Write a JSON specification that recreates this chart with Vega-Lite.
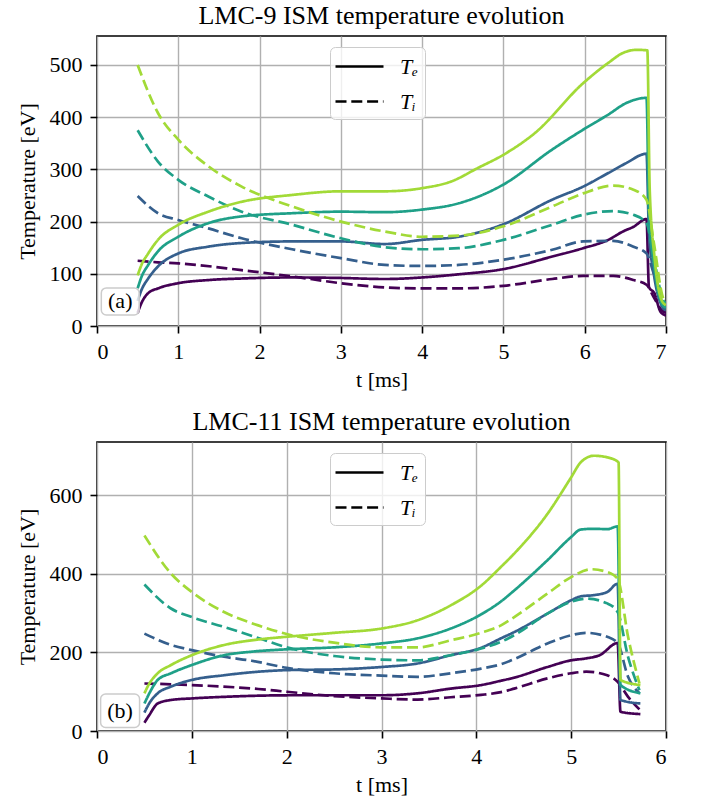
{
"$schema": "https://vega.github.io/schema/vega-lite/v6.json",
"background": "white",
"padding": {"left": 15, "top": 2, "right": 5, "bottom": 5},
"spacing": 116,
"bounds": "flush",
"config": {
  "font": "Liberation Serif",
  "view": {"stroke": "black", "strokeWidth": 1.6},
  "axis": {"domain": false, "grid": true, "gridColor": "#b0b0b0", "gridWidth": 1.4, "tickColor": "black", "tickWidth": 1.6, "tickSize": 7, "labelFont": "Liberation Serif", "labelFontSize": 22, "labelColor": "black", "labelPadding": 8, "titleFont": "Liberation Serif", "titleFontSize": 22, "titleFontWeight": "normal", "titleColor": "black", "format": "d"},
  "axisX": {"titlePadding": 7},
  "axisY": {"titlePadding": 10},
  "title": {"font": "Liberation Serif", "fontSize": 26, "fontWeight": "normal", "color": "black", "anchor": "middle", "offset": 7, "baseline": "alphabetic"}
},
"resolve": {"scale": {"x": "independent", "y": "independent", "color": "independent", "strokeDash": "independent"}, "legend": {"strokeDash": "independent"}},
"datasets": {
"notes": [
{"p":"a","label":"(a)","t0":0.053,"t1":0.519,"T0":21,"T1":73,"tc":0.286,"Tc":47},
{"p":"b","label":"(b)","t0":0.038,"t1":0.449,"T0":9,"T1":94,"tc":0.243,"Tc":51.5}
],
"curves": [
{"p":"a","r":1,"k":"Te","t":0.5,"T":25},{"p":"a","r":1,"k":"Te","t":0.55,"T":45},{"p":"a","r":1,"k":"Te","t":0.63,"T":63},{"p":"a","r":1,"k":"Te","t":0.75,"T":72},{"p":"a","r":1,"k":"Te","t":1.0,"T":82},{"p":"a","r":1,"k":"Te","t":1.37,"T":88},{"p":"a","r":1,"k":"Te","t":1.78,"T":91},{"p":"a","r":1,"k":"Te","t":2.4,"T":93},{"p":"a","r":1,"k":"Te","t":3.0,"T":92},{"p":"a","r":1,"k":"Te","t":3.54,"T":90},{"p":"a","r":1,"k":"Te","t":4.0,"T":93},{"p":"a","r":1,"k":"Te","t":4.45,"T":99},{"p":"a","r":1,"k":"Te","t":5.0,"T":109},{"p":"a","r":1,"k":"Te","t":5.6,"T":133},{"p":"a","r":1,"k":"Te","t":5.98,"T":149},{"p":"a","r":1,"k":"Te","t":6.29,"T":165},{"p":"a","r":1,"k":"Te","t":6.47,"T":181},{"p":"a","r":1,"k":"Te","t":6.6,"T":190},{"p":"a","r":1,"k":"Te","t":6.76,"T":205},{"p":"a","r":1,"k":"Te","t":6.79,"T":75},{"p":"a","r":1,"k":"Te","t":6.86,"T":62},{"p":"a","r":1,"k":"Te","t":6.93,"T":28},{"p":"a","r":1,"k":"Te","t":7.0,"T":20},
{"p":"a","r":1,"k":"Ti","t":0.5,"T":125},{"p":"a","r":1,"k":"Ti","t":0.75,"T":122},{"p":"a","r":1,"k":"Ti","t":1.0,"T":120},{"p":"a","r":1,"k":"Ti","t":1.78,"T":107},{"p":"a","r":1,"k":"Ti","t":2.4,"T":95},{"p":"a","r":1,"k":"Ti","t":3.0,"T":82},{"p":"a","r":1,"k":"Ti","t":3.54,"T":74},{"p":"a","r":1,"k":"Ti","t":4.0,"T":72},{"p":"a","r":1,"k":"Ti","t":4.45,"T":72},{"p":"a","r":1,"k":"Ti","t":5.0,"T":77},{"p":"a","r":1,"k":"Ti","t":5.6,"T":90},{"p":"a","r":1,"k":"Ti","t":5.98,"T":96},{"p":"a","r":1,"k":"Ti","t":6.35,"T":96},{"p":"a","r":1,"k":"Ti","t":6.6,"T":88},{"p":"a","r":1,"k":"Ti","t":6.76,"T":79},{"p":"a","r":1,"k":"Ti","t":6.85,"T":55},{"p":"a","r":1,"k":"Ti","t":6.95,"T":30},{"p":"a","r":1,"k":"Ti","t":7.0,"T":25},
{"p":"a","r":2,"k":"Te","t":0.5,"T":48},{"p":"a","r":2,"k":"Te","t":0.55,"T":70},{"p":"a","r":2,"k":"Te","t":0.63,"T":91},{"p":"a","r":2,"k":"Te","t":0.75,"T":114},{"p":"a","r":2,"k":"Te","t":1.0,"T":139},{"p":"a","r":2,"k":"Te","t":1.37,"T":152},{"p":"a","r":2,"k":"Te","t":1.78,"T":159},{"p":"a","r":2,"k":"Te","t":2.4,"T":162},{"p":"a","r":2,"k":"Te","t":3.0,"T":162},{"p":"a","r":2,"k":"Te","t":3.54,"T":157},{"p":"a","r":2,"k":"Te","t":4.0,"T":165},{"p":"a","r":2,"k":"Te","t":4.45,"T":171},{"p":"a","r":2,"k":"Te","t":5.0,"T":195},{"p":"a","r":2,"k":"Te","t":5.6,"T":242},{"p":"a","r":2,"k":"Te","t":5.98,"T":267},{"p":"a","r":2,"k":"Te","t":6.29,"T":293},{"p":"a","r":2,"k":"Te","t":6.51,"T":312},{"p":"a","r":2,"k":"Te","t":6.76,"T":330},{"p":"a","r":2,"k":"Te","t":6.79,"T":180},{"p":"a","r":2,"k":"Te","t":6.85,"T":100},{"p":"a","r":2,"k":"Te","t":6.95,"T":38},{"p":"a","r":2,"k":"Te","t":7.0,"T":30},
{"p":"a","r":2,"k":"Ti","t":0.5,"T":249},{"p":"a","r":2,"k":"Ti","t":0.75,"T":216},{"p":"a","r":2,"k":"Ti","t":1.0,"T":203},{"p":"a","r":2,"k":"Ti","t":1.37,"T":187},{"p":"a","r":2,"k":"Ti","t":1.78,"T":168},{"p":"a","r":2,"k":"Ti","t":2.4,"T":147},{"p":"a","r":2,"k":"Ti","t":3.0,"T":130},{"p":"a","r":2,"k":"Ti","t":3.54,"T":117},{"p":"a","r":2,"k":"Ti","t":4.0,"T":115},{"p":"a","r":2,"k":"Ti","t":4.45,"T":117},{"p":"a","r":2,"k":"Ti","t":5.0,"T":127},{"p":"a","r":2,"k":"Ti","t":5.6,"T":146},{"p":"a","r":2,"k":"Ti","t":5.98,"T":162},{"p":"a","r":2,"k":"Ti","t":6.35,"T":163},{"p":"a","r":2,"k":"Ti","t":6.6,"T":152},{"p":"a","r":2,"k":"Ti","t":6.76,"T":139},{"p":"a","r":2,"k":"Ti","t":6.85,"T":100},{"p":"a","r":2,"k":"Ti","t":6.97,"T":40},{"p":"a","r":2,"k":"Ti","t":7.0,"T":36},
{"p":"a","r":3,"k":"Te","t":0.5,"T":72},{"p":"a","r":3,"k":"Te","t":0.55,"T":95},{"p":"a","r":3,"k":"Te","t":0.63,"T":117},{"p":"a","r":3,"k":"Te","t":0.75,"T":143},{"p":"a","r":3,"k":"Te","t":1.0,"T":171},{"p":"a","r":3,"k":"Te","t":1.37,"T":197},{"p":"a","r":3,"k":"Te","t":1.78,"T":210},{"p":"a","r":3,"k":"Te","t":2.4,"T":216},{"p":"a","r":3,"k":"Te","t":3.0,"T":219},{"p":"a","r":3,"k":"Te","t":3.54,"T":218},{"p":"a","r":3,"k":"Te","t":4.0,"T":223},{"p":"a","r":3,"k":"Te","t":4.45,"T":235},{"p":"a","r":3,"k":"Te","t":5.0,"T":271},{"p":"a","r":3,"k":"Te","t":5.6,"T":338},{"p":"a","r":3,"k":"Te","t":5.98,"T":376},{"p":"a","r":3,"k":"Te","t":6.29,"T":405},{"p":"a","r":3,"k":"Te","t":6.51,"T":427},{"p":"a","r":3,"k":"Te","t":6.76,"T":437},{"p":"a","r":3,"k":"Te","t":6.79,"T":220},{"p":"a","r":3,"k":"Te","t":6.85,"T":120},{"p":"a","r":3,"k":"Te","t":6.95,"T":42},{"p":"a","r":3,"k":"Te","t":7.0,"T":35},
{"p":"a","r":3,"k":"Ti","t":0.5,"T":375},{"p":"a","r":3,"k":"Ti","t":0.75,"T":315},{"p":"a","r":3,"k":"Ti","t":1.0,"T":280},{"p":"a","r":3,"k":"Ti","t":1.37,"T":248},{"p":"a","r":3,"k":"Ti","t":1.78,"T":219},{"p":"a","r":3,"k":"Ti","t":2.4,"T":194},{"p":"a","r":3,"k":"Ti","t":3.0,"T":168},{"p":"a","r":3,"k":"Ti","t":3.54,"T":151},{"p":"a","r":3,"k":"Ti","t":4.0,"T":147},{"p":"a","r":3,"k":"Ti","t":4.45,"T":149},{"p":"a","r":3,"k":"Ti","t":5.0,"T":165},{"p":"a","r":3,"k":"Ti","t":5.6,"T":194},{"p":"a","r":3,"k":"Ti","t":5.98,"T":213},{"p":"a","r":3,"k":"Ti","t":6.35,"T":220},{"p":"a","r":3,"k":"Ti","t":6.6,"T":213},{"p":"a","r":3,"k":"Ti","t":6.76,"T":197},{"p":"a","r":3,"k":"Ti","t":6.85,"T":130},{"p":"a","r":3,"k":"Ti","t":6.97,"T":48},{"p":"a","r":3,"k":"Ti","t":7.0,"T":44},
{"p":"a","r":4,"k":"Te","t":0.5,"T":97},{"p":"a","r":4,"k":"Te","t":0.55,"T":118},{"p":"a","r":4,"k":"Te","t":0.63,"T":139},{"p":"a","r":4,"k":"Te","t":0.75,"T":165},{"p":"a","r":4,"k":"Te","t":1.0,"T":194},{"p":"a","r":4,"k":"Te","t":1.37,"T":219},{"p":"a","r":4,"k":"Te","t":1.78,"T":238},{"p":"a","r":4,"k":"Te","t":2.4,"T":251},{"p":"a","r":4,"k":"Te","t":3.0,"T":258},{"p":"a","r":4,"k":"Te","t":3.54,"T":258},{"p":"a","r":4,"k":"Te","t":4.0,"T":264},{"p":"a","r":4,"k":"Te","t":4.36,"T":277},{"p":"a","r":4,"k":"Te","t":4.69,"T":303},{"p":"a","r":4,"k":"Te","t":5.0,"T":328},{"p":"a","r":4,"k":"Te","t":5.39,"T":370},{"p":"a","r":4,"k":"Te","t":5.98,"T":465},{"p":"a","r":4,"k":"Te","t":6.29,"T":504},{"p":"a","r":4,"k":"Te","t":6.47,"T":523},{"p":"a","r":4,"k":"Te","t":6.64,"T":529},{"p":"a","r":4,"k":"Te","t":6.77,"T":528},{"p":"a","r":4,"k":"Te","t":6.8,"T":260},{"p":"a","r":4,"k":"Te","t":6.86,"T":130},{"p":"a","r":4,"k":"Te","t":6.95,"T":48},{"p":"a","r":4,"k":"Te","t":7.0,"T":40},
{"p":"a","r":4,"k":"Ti","t":0.5,"T":500},{"p":"a","r":4,"k":"Ti","t":0.75,"T":408},{"p":"a","r":4,"k":"Ti","t":1.0,"T":357},{"p":"a","r":4,"k":"Ti","t":1.37,"T":306},{"p":"a","r":4,"k":"Ti","t":1.78,"T":267},{"p":"a","r":4,"k":"Ti","t":2.4,"T":229},{"p":"a","r":4,"k":"Ti","t":3.0,"T":200},{"p":"a","r":4,"k":"Ti","t":3.54,"T":181},{"p":"a","r":4,"k":"Ti","t":4.0,"T":171},{"p":"a","r":4,"k":"Ti","t":4.45,"T":173},{"p":"a","r":4,"k":"Ti","t":5.0,"T":191},{"p":"a","r":4,"k":"Ti","t":5.6,"T":229},{"p":"a","r":4,"k":"Ti","t":5.98,"T":254},{"p":"a","r":4,"k":"Ti","t":6.35,"T":269},{"p":"a","r":4,"k":"Ti","t":6.6,"T":261},{"p":"a","r":4,"k":"Ti","t":6.76,"T":242},{"p":"a","r":4,"k":"Ti","t":6.85,"T":160},{"p":"a","r":4,"k":"Ti","t":6.97,"T":52},{"p":"a","r":4,"k":"Ti","t":7.0,"T":48},
{"p":"b","r":1,"k":"Te","t":0.5,"T":21},{"p":"b","r":1,"k":"Te","t":0.55,"T":40},{"p":"b","r":1,"k":"Te","t":0.64,"T":70},{"p":"b","r":1,"k":"Te","t":0.78,"T":79},{"p":"b","r":1,"k":"Te","t":1.0,"T":83},{"p":"b","r":1,"k":"Te","t":1.34,"T":87},{"p":"b","r":1,"k":"Te","t":2.05,"T":91},{"p":"b","r":1,"k":"Te","t":2.54,"T":91},{"p":"b","r":1,"k":"Te","t":3.0,"T":91},{"p":"b","r":1,"k":"Te","t":3.38,"T":96},{"p":"b","r":1,"k":"Te","t":3.73,"T":108},{"p":"b","r":1,"k":"Te","t":4.05,"T":117},{"p":"b","r":1,"k":"Te","t":4.26,"T":128},{"p":"b","r":1,"k":"Te","t":4.4,"T":136},{"p":"b","r":1,"k":"Te","t":4.75,"T":163},{"p":"b","r":1,"k":"Te","t":5.0,"T":180},{"p":"b","r":1,"k":"Te","t":5.16,"T":185},{"p":"b","r":1,"k":"Te","t":5.3,"T":193},{"p":"b","r":1,"k":"Te","t":5.49,"T":224},{"p":"b","r":1,"k":"Te","t":5.52,"T":49},{"p":"b","r":1,"k":"Te","t":5.73,"T":43},
{"p":"b","r":1,"k":"Ti","t":0.5,"T":121},{"p":"b","r":1,"k":"Ti","t":1.0,"T":117},{"p":"b","r":1,"k":"Ti","t":1.7,"T":107},{"p":"b","r":1,"k":"Ti","t":2.0,"T":100},{"p":"b","r":1,"k":"Ti","t":2.5,"T":89},{"p":"b","r":1,"k":"Ti","t":3.0,"T":83},{"p":"b","r":1,"k":"Ti","t":3.38,"T":80},{"p":"b","r":1,"k":"Ti","t":3.73,"T":86},{"p":"b","r":1,"k":"Ti","t":4.05,"T":92},{"p":"b","r":1,"k":"Ti","t":4.26,"T":99},{"p":"b","r":1,"k":"Ti","t":4.4,"T":108},{"p":"b","r":1,"k":"Ti","t":4.75,"T":134},{"p":"b","r":1,"k":"Ti","t":5.0,"T":147},{"p":"b","r":1,"k":"Ti","t":5.16,"T":151},{"p":"b","r":1,"k":"Ti","t":5.38,"T":142},{"p":"b","r":1,"k":"Ti","t":5.49,"T":125},{"p":"b","r":1,"k":"Ti","t":5.6,"T":87},{"p":"b","r":1,"k":"Ti","t":5.72,"T":55},
{"p":"b","r":2,"k":"Te","t":0.5,"T":47},{"p":"b","r":2,"k":"Te","t":0.55,"T":70},{"p":"b","r":2,"k":"Te","t":0.64,"T":96},{"p":"b","r":2,"k":"Te","t":0.78,"T":113},{"p":"b","r":2,"k":"Te","t":1.0,"T":130},{"p":"b","r":2,"k":"Te","t":1.34,"T":142},{"p":"b","r":2,"k":"Te","t":1.7,"T":151},{"p":"b","r":2,"k":"Te","t":2.0,"T":155},{"p":"b","r":2,"k":"Te","t":2.54,"T":157},{"p":"b","r":2,"k":"Te","t":3.0,"T":163},{"p":"b","r":2,"k":"Te","t":3.38,"T":172},{"p":"b","r":2,"k":"Te","t":3.73,"T":193},{"p":"b","r":2,"k":"Te","t":4.05,"T":212},{"p":"b","r":2,"k":"Te","t":4.26,"T":236},{"p":"b","r":2,"k":"Te","t":4.4,"T":252},{"p":"b","r":2,"k":"Te","t":4.75,"T":299},{"p":"b","r":2,"k":"Te","t":5.0,"T":333},{"p":"b","r":2,"k":"Te","t":5.1,"T":343},{"p":"b","r":2,"k":"Te","t":5.24,"T":346},{"p":"b","r":2,"k":"Te","t":5.38,"T":354},{"p":"b","r":2,"k":"Te","t":5.49,"T":375},{"p":"b","r":2,"k":"Te","t":5.52,"T":79},{"p":"b","r":2,"k":"Te","t":5.73,"T":70},
{"p":"b","r":2,"k":"Ti","t":0.5,"T":248},{"p":"b","r":2,"k":"Ti","t":0.78,"T":219},{"p":"b","r":2,"k":"Ti","t":1.0,"T":206},{"p":"b","r":2,"k":"Ti","t":1.34,"T":189},{"p":"b","r":2,"k":"Ti","t":1.63,"T":179},{"p":"b","r":2,"k":"Ti","t":2.0,"T":161},{"p":"b","r":2,"k":"Ti","t":2.5,"T":147},{"p":"b","r":2,"k":"Ti","t":3.0,"T":141},{"p":"b","r":2,"k":"Ti","t":3.38,"T":138},{"p":"b","r":2,"k":"Ti","t":3.73,"T":147},{"p":"b","r":2,"k":"Ti","t":4.05,"T":159},{"p":"b","r":2,"k":"Ti","t":4.26,"T":170},{"p":"b","r":2,"k":"Ti","t":4.4,"T":183},{"p":"b","r":2,"k":"Ti","t":4.75,"T":223},{"p":"b","r":2,"k":"Ti","t":5.0,"T":244},{"p":"b","r":2,"k":"Ti","t":5.16,"T":250},{"p":"b","r":2,"k":"Ti","t":5.38,"T":240},{"p":"b","r":2,"k":"Ti","t":5.49,"T":224},{"p":"b","r":2,"k":"Ti","t":5.6,"T":138},{"p":"b","r":2,"k":"Ti","t":5.72,"T":96},
{"p":"b","r":3,"k":"Te","t":0.5,"T":70},{"p":"b","r":3,"k":"Te","t":0.55,"T":95},{"p":"b","r":3,"k":"Te","t":0.64,"T":130},{"p":"b","r":3,"k":"Te","t":0.78,"T":147},{"p":"b","r":3,"k":"Te","t":1.0,"T":168},{"p":"b","r":3,"k":"Te","t":1.34,"T":193},{"p":"b","r":3,"k":"Te","t":1.63,"T":202},{"p":"b","r":3,"k":"Te","t":2.0,"T":208},{"p":"b","r":3,"k":"Te","t":2.5,"T":213},{"p":"b","r":3,"k":"Te","t":3.0,"T":223},{"p":"b","r":3,"k":"Te","t":3.38,"T":236},{"p":"b","r":3,"k":"Te","t":3.73,"T":261},{"p":"b","r":3,"k":"Te","t":4.05,"T":297},{"p":"b","r":3,"k":"Te","t":4.26,"T":330},{"p":"b","r":3,"k":"Te","t":4.4,"T":358},{"p":"b","r":3,"k":"Te","t":4.75,"T":435},{"p":"b","r":3,"k":"Te","t":5.0,"T":494},{"p":"b","r":3,"k":"Te","t":5.1,"T":513},{"p":"b","r":3,"k":"Te","t":5.24,"T":515},{"p":"b","r":3,"k":"Te","t":5.38,"T":514},{"p":"b","r":3,"k":"Te","t":5.49,"T":521},{"p":"b","r":3,"k":"Te","t":5.52,"T":117},{"p":"b","r":3,"k":"Te","t":5.73,"T":96},
{"p":"b","r":3,"k":"Ti","t":0.5,"T":373},{"p":"b","r":3,"k":"Ti","t":0.78,"T":312},{"p":"b","r":3,"k":"Ti","t":1.0,"T":290},{"p":"b","r":3,"k":"Ti","t":1.34,"T":265},{"p":"b","r":3,"k":"Ti","t":1.7,"T":237},{"p":"b","r":3,"k":"Ti","t":2.0,"T":213},{"p":"b","r":3,"k":"Ti","t":2.5,"T":191},{"p":"b","r":3,"k":"Ti","t":3.0,"T":182},{"p":"b","r":3,"k":"Ti","t":3.38,"T":180},{"p":"b","r":3,"k":"Ti","t":3.73,"T":193},{"p":"b","r":3,"k":"Ti","t":4.05,"T":210},{"p":"b","r":3,"k":"Ti","t":4.26,"T":227},{"p":"b","r":3,"k":"Ti","t":4.4,"T":244},{"p":"b","r":3,"k":"Ti","t":4.75,"T":299},{"p":"b","r":3,"k":"Ti","t":5.0,"T":329},{"p":"b","r":3,"k":"Ti","t":5.16,"T":337},{"p":"b","r":3,"k":"Ti","t":5.38,"T":325},{"p":"b","r":3,"k":"Ti","t":5.49,"T":303},{"p":"b","r":3,"k":"Ti","t":5.6,"T":189},{"p":"b","r":3,"k":"Ti","t":5.72,"T":104},
{"p":"b","r":4,"k":"Te","t":0.5,"T":96},{"p":"b","r":4,"k":"Te","t":0.55,"T":120},{"p":"b","r":4,"k":"Te","t":0.64,"T":147},{"p":"b","r":4,"k":"Te","t":0.78,"T":168},{"p":"b","r":4,"k":"Te","t":1.0,"T":193},{"p":"b","r":4,"k":"Te","t":1.34,"T":219},{"p":"b","r":4,"k":"Te","t":1.7,"T":233},{"p":"b","r":4,"k":"Te","t":2.0,"T":240},{"p":"b","r":4,"k":"Te","t":2.5,"T":250},{"p":"b","r":4,"k":"Te","t":3.0,"T":261},{"p":"b","r":4,"k":"Te","t":3.38,"T":282},{"p":"b","r":4,"k":"Te","t":3.73,"T":320},{"p":"b","r":4,"k":"Te","t":4.05,"T":370},{"p":"b","r":4,"k":"Te","t":4.26,"T":418},{"p":"b","r":4,"k":"Te","t":4.4,"T":452},{"p":"b","r":4,"k":"Te","t":4.75,"T":553},{"p":"b","r":4,"k":"Te","t":5.0,"T":646},{"p":"b","r":4,"k":"Te","t":5.1,"T":684},{"p":"b","r":4,"k":"Te","t":5.24,"T":701},{"p":"b","r":4,"k":"Te","t":5.38,"T":697},{"p":"b","r":4,"k":"Te","t":5.5,"T":684},{"p":"b","r":4,"k":"Te","t":5.52,"T":130},{"p":"b","r":4,"k":"Te","t":5.73,"T":117},
{"p":"b","r":4,"k":"Ti","t":0.5,"T":498},{"p":"b","r":4,"k":"Ti","t":0.78,"T":401},{"p":"b","r":4,"k":"Ti","t":1.0,"T":354},{"p":"b","r":4,"k":"Ti","t":1.34,"T":303},{"p":"b","r":4,"k":"Ti","t":1.7,"T":269},{"p":"b","r":4,"k":"Ti","t":2.05,"T":244},{"p":"b","r":4,"k":"Ti","t":2.5,"T":225},{"p":"b","r":4,"k":"Ti","t":3.0,"T":213},{"p":"b","r":4,"k":"Ti","t":3.38,"T":213},{"p":"b","r":4,"k":"Ti","t":3.73,"T":231},{"p":"b","r":4,"k":"Ti","t":4.05,"T":250},{"p":"b","r":4,"k":"Ti","t":4.26,"T":269},{"p":"b","r":4,"k":"Ti","t":4.4,"T":290},{"p":"b","r":4,"k":"Ti","t":4.75,"T":350},{"p":"b","r":4,"k":"Ti","t":5.0,"T":392},{"p":"b","r":4,"k":"Ti","t":5.21,"T":412},{"p":"b","r":4,"k":"Ti","t":5.38,"T":405},{"p":"b","r":4,"k":"Ti","t":5.49,"T":388},{"p":"b","r":4,"k":"Ti","t":5.6,"T":240},{"p":"b","r":4,"k":"Ti","t":5.72,"T":121}
]
},
"vconcat": [
{
  "title": "LMC-9 ISM temperature evolution",
  "width": 569, "height": 290,
  "layer": [
    {
      "data": {"name": "curves"},
      "transform": [{"filter": "datum.p == 'a'"}],
      "mark": {"type": "line", "strokeWidth": 2.7, "clip": true, "strokeJoin": "round", "interpolate": "monotone"},
      "encoding": {
        "x": {"field": "t", "type": "quantitative", "scale": {"domain": [0, 7], "nice": false}, "axis": {"title": "t [ms]", "values": [0,1,2,3,4,5,6,7], "format": "d"}},
        "y": {"field": "T", "type": "quantitative", "scale": {"domain": [0, 555.5], "nice": false}, "axis": {"title": "Temperature [eV]", "values": [0,100,200,300,400,500], "format": "d"}},
        "color": {"field": "r", "type": "nominal", "scale": {"domain": [1,2,3,4], "range": ["#440154", "#355f8d", "#1fa088", "#a2da37"]}, "legend": null},
        "strokeDash": {"field": "k", "type": "nominal", "scale": {"domain": ["Te", "Ti"], "range": [[1, 0], [11, 4.8]]},
          "legend": {"orient": "none", "legendX": 233, "legendY": 11, "title": null, "symbolType": "M-2,0H2", "symbolSize": 576, "symbolStrokeWidth": 2.7, "symbolStrokeColor": "black", "symbolFillColor": "transparent", "symbolOffset": 10, "labelFont": "Liberation Serif", "labelFontSize": 22, "labelFontStyle": "italic", "labelColor": "black", "labelOffset": 27, "labelExpr": "datum.label == 'Te' ? 'Tₑ' : 'Tᵢ'", "padding": 6, "rowPadding": 10, "fillColor": "rgba(255,255,255,0.8)", "strokeColor": "#cccccc", "cornerRadius": 5}}
      }
    },
    {
      "data": {"name": "notes"},
      "transform": [{"filter": "datum.p == 'a'"}],
      "mark": {"type": "rect", "fill": "white", "fillOpacity": 0.8, "stroke": "#cccccc", "strokeWidth": 1.5, "cornerRadius": 5},
      "encoding": {
        "x": {"field": "t0", "type": "quantitative"}, "x2": {"field": "t1"},
        "y": {"field": "T0", "type": "quantitative"}, "y2": {"field": "T1"}
      }
    },
    {
      "data": {"name": "notes"},
      "transform": [{"filter": "datum.p == 'a'"}],
      "mark": {"type": "text", "font": "Liberation Serif", "fontSize": 22, "color": "black", "align": "center", "baseline": "middle"},
      "encoding": {
        "x": {"field": "tc", "type": "quantitative"},
        "y": {"field": "Tc", "type": "quantitative"},
        "text": {"field": "label"}
      }
    }
  ]
},
{
  "title": "LMC-11 ISM temperature evolution",
  "width": 569, "height": 289,
  "layer": [
    {
      "data": {"name": "curves"},
      "transform": [{"filter": "datum.p == 'b'"}],
      "mark": {"type": "line", "strokeWidth": 2.7, "clip": true, "strokeJoin": "round", "interpolate": "monotone"},
      "encoding": {
        "x": {"field": "t", "type": "quantitative", "scale": {"domain": [0, 6], "nice": false}, "axis": {"title": "t [ms]", "values": [0,1,2,3,4,5,6], "format": "d"}},
        "y": {"field": "T", "type": "quantitative", "scale": {"domain": [0, 736], "nice": false}, "axis": {"title": "Temperature [eV]", "values": [0,200,400,600], "format": "d"}},
        "color": {"field": "r", "type": "nominal", "scale": {"domain": [1,2,3,4], "range": ["#440154", "#355f8d", "#1fa088", "#a2da37"]}, "legend": null},
        "strokeDash": {"field": "k", "type": "nominal", "scale": {"domain": ["Te", "Ti"], "range": [[1, 0], [11, 4.8]]},
          "legend": {"orient": "none", "legendX": 233, "legendY": 11, "title": null, "symbolType": "M-2,0H2", "symbolSize": 576, "symbolStrokeWidth": 2.7, "symbolStrokeColor": "black", "symbolFillColor": "transparent", "symbolOffset": 10, "labelFont": "Liberation Serif", "labelFontSize": 22, "labelFontStyle": "italic", "labelColor": "black", "labelOffset": 27, "labelExpr": "datum.label == 'Te' ? 'Tₑ' : 'Tᵢ'", "padding": 6, "rowPadding": 10, "fillColor": "rgba(255,255,255,0.8)", "strokeColor": "#cccccc", "cornerRadius": 5}}
      }
    },
    {
      "data": {"name": "notes"},
      "transform": [{"filter": "datum.p == 'b'"}],
      "mark": {"type": "rect", "fill": "white", "fillOpacity": 0.8, "stroke": "#cccccc", "strokeWidth": 1.5, "cornerRadius": 5},
      "encoding": {
        "x": {"field": "t0", "type": "quantitative"}, "x2": {"field": "t1"},
        "y": {"field": "T0", "type": "quantitative"}, "y2": {"field": "T1"}
      }
    },
    {
      "data": {"name": "notes"},
      "transform": [{"filter": "datum.p == 'b'"}],
      "mark": {"type": "text", "font": "Liberation Serif", "fontSize": 22, "color": "black", "align": "center", "baseline": "middle"},
      "encoding": {
        "x": {"field": "tc", "type": "quantitative"},
        "y": {"field": "Tc", "type": "quantitative"},
        "text": {"field": "label"}
      }
    }
  ]
}
]
}
